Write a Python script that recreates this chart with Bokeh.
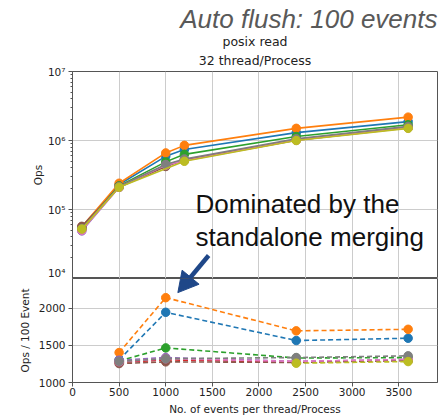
from bokeh.plotting import figure
from bokeh.layouts import column
from bokeh.models import Range1d, Title, Label, FixedTicker, SingleIntervalTicker, Grid
from bokeh.embed import file_html
from bokeh.resources import INLINE

# ---- data -------------------------------------------------------------
x_top = [100, 500, 1000, 1200, 2400, 3600]
x_top_olive = [100, 500, 1200, 2400, 3600]
x_bot = [500, 1000, 2400, 3600]
x_bot_olive = [2400, 3600]

ops_blue = [5.4e4, 2.30e5, 5.9e5, 7.4e5, 1.30e6, 1.88e6]
ops_orange = [5.6e4, 2.40e5, 6.6e5, 8.5e5, 1.50e6, 2.18e6]
ops_green = [5.3e4, 2.20e5, 4.9e5, 6.3e5, 1.14e6, 1.69e6]
ops_red = [5.2e4, 2.15e5, 4.4e5, 5.2e5, 1.03e6, 1.56e6]
ops_purple = [4.9e4, 2.10e5, 4.4e5, 5.2e5, 1.02e6, 1.55e6]
ops_brown = [5.7e4, 2.10e5, 4.2e5, 5.2e5, 1.01e6, 1.53e6]
ops_pink = [5.0e4, 2.10e5, 4.4e5, 5.1e5, 1.01e6, 1.52e6]
ops_gray = [5.3e4, 2.15e5, 4.5e5, 5.4e5, 1.06e6, 1.60e6]
ops_olive = [5.2e4, 2.10e5, 5.0e5, 1.00e6, 1.50e6]

per_blue = [1305, 1945, 1565, 1596]
per_orange = [1403, 2142, 1695, 1716]
per_green = [1290, 1466, 1330, 1335]
per_red = [1270, 1305, 1275, 1300]
per_purple = [1300, 1336, 1285, 1310]
per_brown = [1255, 1278, 1270, 1295]
per_pink = [1280, 1320, 1285, 1310]
per_gray = [1285, 1320, 1336, 1359]
per_olive = [1260, 1282]

colors = ["#1f77b4", "#ff7f0e", "#2ca02c", "#d62728", "#9467bd",
          "#8c564b", "#e377c2", "#7f7f7f", "#bcbd22"]
top_series = [(x_top, ops_blue), (x_top, ops_orange), (x_top, ops_green),
              (x_top, ops_red), (x_top, ops_purple), (x_top, ops_brown),
              (x_top, ops_pink), (x_top, ops_gray), (x_top_olive, ops_olive)]
bot_series = [(x_bot, per_blue), (x_bot, per_orange), (x_bot, per_green),
              (x_bot, per_red), (x_bot, per_purple), (x_bot, per_brown),
              (x_bot, per_pink), (x_bot, per_gray), (x_bot_olive, per_olive)]

# ---- layout constants --------------------------------------------------
FRAME_W, TOP_H, BOT_H = 365, 207, 104
X_RANGE = (0, 3915)
TOP_RANGE = (1e4, 1e7)
BOT_RANGE = (1000, 2400)
SPINE = "#555555"
GRID = "#cccccc"
TXT = "#222222"
FONT = "DejaVu Sans"
TICK_PX = "10.5px"

xticker = SingleIntervalTicker(interval=500, num_minor_ticks=0)


def style_axis(ax):
    ax.axis_line_color = SPINE
    ax.major_tick_line_color = SPINE
    ax.minor_tick_line_color = SPINE
    ax.major_tick_in = 0
    ax.major_tick_out = 4
    ax.minor_tick_in = 0
    ax.minor_tick_out = 2
    ax.major_label_text_font = FONT
    ax.major_label_text_font_size = TICK_PX
    ax.major_label_text_color = TXT
    ax.major_label_standoff = 3
    ax.axis_label_text_font = FONT
    ax.axis_label_text_font_size = TICK_PX
    ax.axis_label_text_font_style = "normal"
    ax.axis_label_text_color = TXT
    ax.axis_label_standoff = 5


# ---- upper panel: absolute ops (log scale) ----------------------------
top = figure(frame_width=FRAME_W, frame_height=TOP_H, y_axis_type="log",
             x_range=Range1d(*X_RANGE), y_range=Range1d(*TOP_RANGE),
             x_axis_location=None, output_backend="svg", toolbar_location=None,
             min_border_left=72, min_border_right=5, min_border_bottom=0,
             min_border_top=0)
top.outline_line_color = SPINE
top.outline_line_alpha = 1
top.background_fill_color = "white"
top.border_fill_color = "white"

decades = [1e4, 1e5, 1e6, 1e7]
minor = [k * d for d in decades[:-1] for k in range(2, 10)]
top.yaxis.ticker = FixedTicker(ticks=decades, minor_ticks=minor)
top.yaxis.major_label_overrides = {1e4: "10\u2074", 1e5: "10\u2075",
                                   1e6: "10\u2076", 1e7: "10\u2077"}
top.yaxis.axis_label = "Ops"
style_axis(top.yaxis[0])
top.yaxis.axis_label_standoff = 1
top.ygrid.grid_line_color = GRID
top.ygrid.ticker = FixedTicker(ticks=decades)
if len(top.xgrid) == 0:
    top.add_layout(Grid(dimension=0, ticker=xticker, grid_line_color=GRID))
else:
    top.xgrid.ticker = xticker
    top.xgrid.grid_line_color = GRID

for (xs, ys), c in zip(top_series, colors):
    top.line(xs, ys, line_color=c, line_width=1.6)
    top.scatter(xs, ys, size=8.5, fill_color=c, line_color=c)

# titles (added innermost first)
top.add_layout(Title(text="32 thread/Process", align="center", text_font=FONT,
                     text_font_size="12.5px", text_font_style="normal",
                     text_color=TXT, standoff=8, offset=0), "above")
top.add_layout(Title(text="posix read", align="center", text_font=FONT,
                     text_font_size="12.5px", text_font_style="normal",
                     text_color=TXT, standoff=-5, offset=0), "above")
top.add_layout(Title(text="Auto flush: 100 events", align="right",
                     text_font="Liberation Sans", text_font_size="26px",
                     text_font_style="italic", text_color="#595959",
                     standoff=2, offset=0), "above")

top.add_layout(Label(x=1320, y=1.22e5, text="Dominated by the",
                     text_font="Liberation Sans", text_font_size="26px",
                     text_color="#111111", text_baseline="alphabetic"))
top.add_layout(Label(x=1320, y=4.06e4, text="standalone merging",
                     text_font="Liberation Sans", text_font_size="26px",
                     text_color="#111111", text_baseline="alphabetic"))

# ---- lower panel: ops per 100 events ----------------------------------
bot = figure(frame_width=FRAME_W, frame_height=BOT_H,
             x_range=top.x_range, y_range=Range1d(*BOT_RANGE),
             output_backend="svg", toolbar_location=None,
             min_border_left=72, min_border_right=5, min_border_top=0,
             min_border_bottom=2)
bot.outline_line_color = SPINE
bot.xaxis.ticker = xticker
bot.yaxis.ticker = FixedTicker(ticks=[1000, 1500, 2000], minor_ticks=[])
bot.xaxis.axis_label = "No. of events per thread/Process"
bot.yaxis.axis_label = "Ops / 100 Event"
style_axis(bot.xaxis[0])
style_axis(bot.yaxis[0])
bot.xaxis.major_label_standoff = 1
bot.xaxis.axis_label_standoff = 4
bot.xgrid.grid_line_color = GRID
bot.ygrid.grid_line_color = GRID

for (xs, ys), c in zip(bot_series, colors):
    bot.line(xs, ys, line_color=c, line_width=1.6, line_dash="5 3")
    bot.scatter(xs, ys, size=8.5, fill_color=c, line_color=c)

# ---- arrow crossing both panels (lower-panel data units) --------------
ARROW_TAIL = (1460, 2710)
ARROW_TIP = (1130, 2210)
ARROW_COLOR = "#1f4788"
HEAD_LEN, HEAD_HALF = 20.0, 11.0

sx = FRAME_W / (X_RANGE[1] - X_RANGE[0])
sy = BOT_H / (BOT_RANGE[1] - BOT_RANGE[0])


def to_px(p):
    return ((p[0] - X_RANGE[0]) * sx, (p[1] - BOT_RANGE[0]) * sy)


def px_bot(p):
    return (X_RANGE[0] + p[0] / sx, BOT_RANGE[0] + p[1] / sy)


def px_top(p):
    return (X_RANGE[0] + p[0] / sx, 10 ** (4 + (p[1] - BOT_H) * 3 / TOP_H))


tx, ty = to_px(ARROW_TAIL)
hx, hy = to_px(ARROW_TIP)
dx, dy = hx - tx, hy - ty
ln = (dx * dx + dy * dy) ** 0.5
ux, uy = dx / ln, dy / ln
bx, by = hx - ux * HEAD_LEN, hy - uy * HEAD_LEN
nx, ny = -uy, ux
head = [(hx, hy), (bx + nx * HEAD_HALF, by + ny * HEAD_HALF),
        (bx - nx * HEAD_HALF, by - ny * HEAD_HALF)]
shaft = [(tx, ty), (bx + ux * 2, by + uy * 2)]

for fig, conv in ((top, px_top), (bot, px_bot)):
    s = [conv(p) for p in shaft]
    h = [conv(p) for p in head]
    fig.line([p[0] for p in s], [p[1] for p in s], line_color=ARROW_COLOR,
             line_width=4.5)
    fig.patch([p[0] for p in h], [p[1] for p in h], fill_color=ARROW_COLOR,
              line_color=ARROW_COLOR, line_width=1)

layout = column(top, bot, spacing=0)
open("out.html", "w").write(file_html(layout, INLINE))
